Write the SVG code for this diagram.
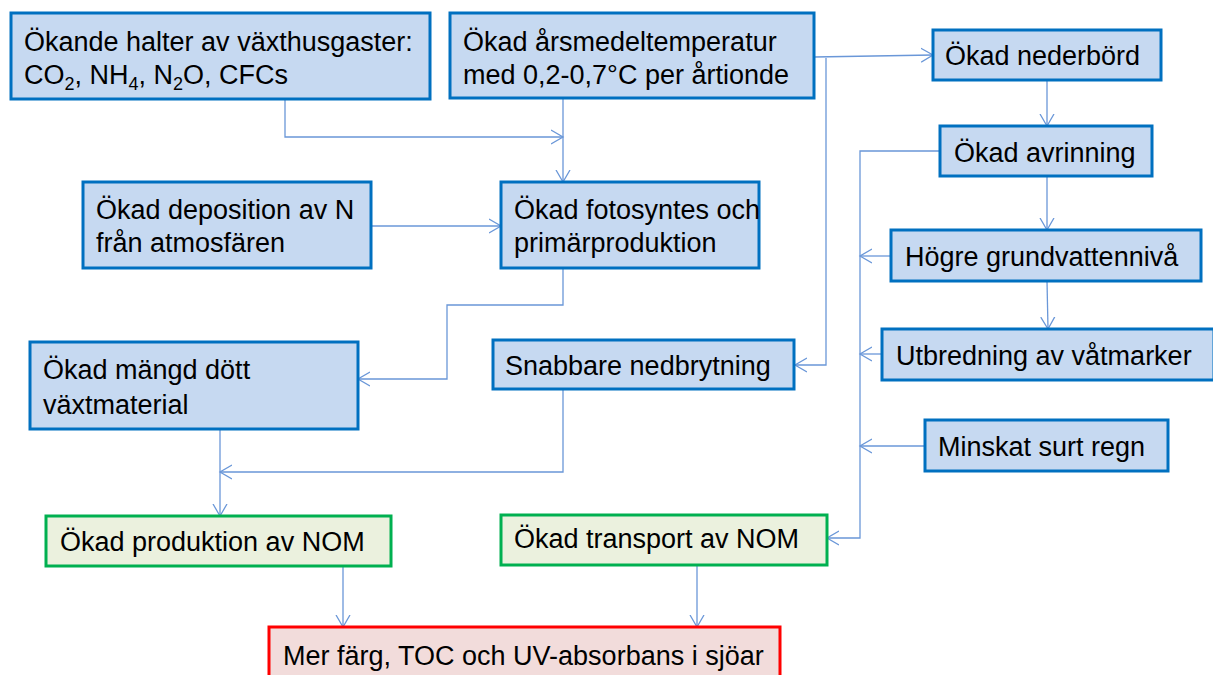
<svg xmlns="http://www.w3.org/2000/svg" width="1213" height="675" viewBox="0 0 1213 675">
<defs>
<marker id="arr" markerUnits="userSpaceOnUse" markerWidth="14" markerHeight="16" refX="12" refY="8" orient="auto" viewBox="0 0 14 16">
<path d="M0,1 L12,8 L0,15" fill="none" stroke="#6A97D8" stroke-width="1.3"/>
</marker>
<style>
.b rect{fill:#C6D9F1;stroke:#0070C0;stroke-width:3}
.g rect{fill:#EBF1DE;stroke:#00B050;stroke-width:3}
.r rect{fill:#F2DCDB;stroke:#FF0000;stroke-width:3}
text{font-family:"Liberation Sans",Arial,sans-serif;font-size:27px;fill:#000}
.sub{font-size:18px}
#connectors path{fill:none;stroke:#6A97D8;stroke-width:1.3}
</style>
</defs>
<rect width="1213" height="675" fill="#fff"/>
<g id="connectors">
<path d="M285,99 V137 H563" marker-end="url(#arr)"/>
<path d="M563,98 V182" marker-end="url(#arr)"/>
<path d="M814,57 L933,55" marker-end="url(#arr)"/>
<path d="M826,58 V365 H795" marker-end="url(#arr)"/>
<path d="M1047,80 V126" marker-end="url(#arr)"/>
<path d="M940,151 H860 V538 H827" marker-end="url(#arr)"/>
<path d="M1047,176 V230" marker-end="url(#arr)"/>
<path d="M891,256 H860" marker-end="url(#arr)"/>
<path d="M1047,281 L1048,329" marker-end="url(#arr)"/>
<path d="M882,354 H860" marker-end="url(#arr)"/>
<path d="M925,446 H860" marker-end="url(#arr)"/>
<path d="M371,226 H501" marker-end="url(#arr)"/>
<path d="M563,268 V305 H447 V379 H358" marker-end="url(#arr)"/>
<path d="M220,429 V516" marker-end="url(#arr)"/>
<path d="M563,389 V472 H220" marker-end="url(#arr)"/>
<path d="M343,566 V627" marker-end="url(#arr)"/>
<path d="M697,565 V627" marker-end="url(#arr)"/>
</g>
<g id="n1" class="b"><rect x="11" y="13" width="419" height="86"/>
<text x="24" y="51">Ökande halter av växthusgaster:</text>
<text x="24" y="84">CO<tspan class="sub" dy="6">2</tspan><tspan dy="-6">, NH</tspan><tspan class="sub" dy="6">4</tspan><tspan dy="-6">, N</tspan><tspan class="sub" dy="6">2</tspan><tspan dy="-6">O, CFCs</tspan></text></g>
<g id="n2" class="b"><rect x="450" y="13" width="364" height="85"/>
<text x="463" y="51">Ökad årsmedeltemperatur</text>
<text x="463" y="84">med 0,2-0,7°C per årtionde</text></g>
<g id="n3" class="b"><rect x="933" y="30" width="228" height="50"/>
<text x="945" y="65">Ökad nederbörd</text></g>
<g id="n4" class="b"><rect x="940" y="126" width="212" height="50"/>
<text x="954" y="162">Ökad avrinning</text></g>
<g id="n5" class="b"><rect x="83" y="182" width="288" height="86"/>
<text x="96" y="219">Ökad deposition av N</text>
<text x="96" y="252">från atmosfären</text></g>
<g id="n6" class="b"><rect x="501" y="182" width="258" height="86"/>
<text x="514" y="219">Ökad fotosyntes och</text>
<text x="514" y="252">primärproduktion</text></g>
<g id="n7" class="b"><rect x="891" y="230" width="310" height="51"/>
<text x="905" y="266">Högre grundvattennivå</text></g>
<g id="n8" class="b"><rect x="882" y="329" width="332" height="51"/>
<text x="896" y="365">Utbredning av våtmarker</text></g>
<g id="n9" class="b"><rect x="925" y="420" width="243" height="51"/>
<text x="938" y="456">Minskat surt regn</text></g>
<g id="n10" class="b"><rect x="30" y="342" width="328" height="87"/>
<text x="43" y="379">Ökad mängd dött</text>
<text x="43" y="414">växtmaterial</text></g>
<g id="n11" class="b"><rect x="493" y="340" width="301" height="49"/>
<text x="505" y="375">Snabbare nedbrytning</text></g>
<g id="n12" class="g"><rect x="46" y="516" width="345" height="50"/>
<text x="60" y="551">Ökad produktion av NOM</text></g>
<g id="n13" class="g"><rect x="501" y="515" width="326" height="50"/>
<text x="514" y="548">Ökad transport av NOM</text></g>
<g id="n14" class="r"><rect x="269" y="627" width="511" height="60"/>
<text x="283" y="665">Mer färg, TOC och UV-absorbans i sjöar</text></g>
</svg>
